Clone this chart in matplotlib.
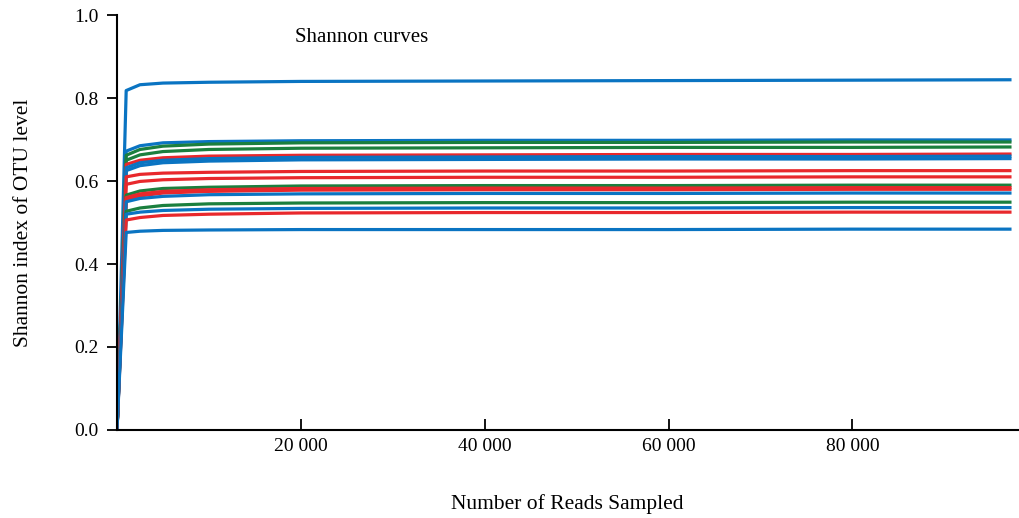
import matplotlib
matplotlib.use("Agg")
import matplotlib.pyplot as plt
from matplotlib.ticker import FuncFormatter

plt.rcParams['font.family'] = ['Liberation Serif', 'DejaVu Serif']

# Number of reads sampled (shared x grid for every curve)
reads = [0, 1000, 2500, 5000, 10000, 20000, 40000, 60000, 80000, 97300]

# Shannon index per sample
s01 = [0, 0.818, 0.832, 0.836, 0.838, 0.840, 0.841, 0.842, 0.843, 0.844]
s02 = [0, 0.672, 0.685, 0.692, 0.695, 0.697, 0.698, 0.698, 0.699, 0.699]
s03 = [0, 0.662, 0.676, 0.684, 0.689, 0.692, 0.693, 0.693, 0.694, 0.694]
s04 = [0, 0.650, 0.663, 0.671, 0.676, 0.679, 0.680, 0.681, 0.681, 0.682]
s05 = [0, 0.640, 0.650, 0.656, 0.660, 0.662, 0.663, 0.664, 0.664, 0.665]
s06 = [0, 0.632, 0.644, 0.650, 0.654, 0.657, 0.658, 0.659, 0.659, 0.660]
s07 = [0, 0.625, 0.637, 0.644, 0.648, 0.651, 0.652, 0.653, 0.653, 0.654]
s08 = [0, 0.610, 0.616, 0.619, 0.621, 0.623, 0.624, 0.624, 0.625, 0.625]
s09 = [0, 0.592, 0.599, 0.603, 0.606, 0.608, 0.609, 0.609, 0.610, 0.610]
s10 = [0, 0.566, 0.576, 0.582, 0.585, 0.588, 0.589, 0.589, 0.590, 0.590]
s11 = [0, 0.560, 0.569, 0.575, 0.579, 0.582, 0.583, 0.583, 0.584, 0.584]
s12 = [0, 0.555, 0.564, 0.571, 0.575, 0.578, 0.579, 0.579, 0.580, 0.580]
s13 = [0, 0.550, 0.558, 0.563, 0.567, 0.569, 0.570, 0.570, 0.571, 0.571]
s14 = [0, 0.527, 0.535, 0.541, 0.545, 0.547, 0.548, 0.548, 0.549, 0.549]
s15 = [0, 0.520, 0.525, 0.529, 0.532, 0.534, 0.535, 0.535, 0.536, 0.536]
s16 = [0, 0.506, 0.512, 0.517, 0.520, 0.523, 0.524, 0.524, 0.525, 0.525]
s17 = [0, 0.476, 0.479, 0.481, 0.482, 0.483, 0.483, 0.483, 0.484, 0.484]

series = [s01, s02, s03, s04, s05, s06, s07, s08, s09, s10,
          s11, s12, s13, s14, s15, s16, s17]
series_groups = ['blue', 'blue', 'green', 'green', 'red', 'blue', 'blue', 'red', 'red',
                 'green', 'red', 'red', 'blue', 'green', 'blue', 'red', 'blue']

x_ticks = [20000, 40000, 60000, 80000]
y_ticks = [0.0, 0.2, 0.4, 0.6, 0.8, 1.0]

palette = {'blue': '#0a74c2', 'green': '#1b7f3e', 'red': '#e8282c'}

fig = plt.figure(figsize=(10.2, 5.18), dpi=100)
ax = fig.add_axes([0.1147, 0.1699, 0.8833, 0.8011])

for ys, g in zip(series, series_groups):
    ax.plot(reads, ys, color=palette[g], lw=2.3, solid_capstyle='butt', solid_joinstyle='round')

ax.set_xlim(0, 98000)
ax.set_ylim(0, 1.0)
ax.set_xticks(x_ticks)
ax.set_yticks(y_ticks)
ax.xaxis.set_major_formatter(FuncFormatter(lambda v, p: f"{int(v):,}".replace(",", " ")))
ax.yaxis.set_major_formatter(FuncFormatter(lambda v, p: f"{v:.1f}"))

for side in ['top', 'right']:
    ax.spines[side].set_visible(False)
for side in ['left', 'bottom']:
    ax.spines[side].set_linewidth(1.5)
    ax.spines[side].set_color('black')

ax.tick_params(axis='x', direction='in', length=8, width=1.3, labelsize=14, pad=6)
ax.tick_params(axis='y', direction='out', length=7, width=1.3, labelsize=14, pad=6)

ax.set_xlabel('Number of Reads Sampled', fontsize=15.5, labelpad=28)
ax.set_ylabel('Shannon index of OTU level', fontsize=15.5, labelpad=30)

ax.text(19350, 0.945, 'Shannon curves', fontsize=15, ha='left', va='center')

fig.savefig('out.png', dpi=100)
